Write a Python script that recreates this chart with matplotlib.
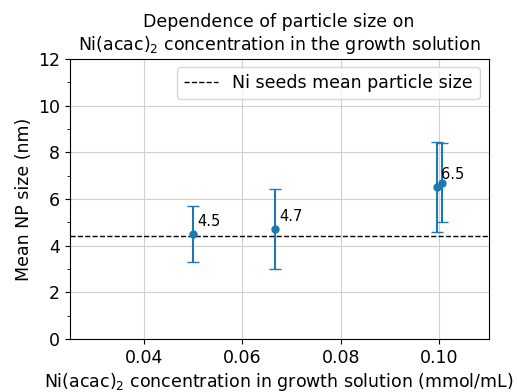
import matplotlib
matplotlib.use("Agg")
import matplotlib.pyplot as plt
from matplotlib.ticker import MultipleLocator

# Ni(acac)2 concentration (mmol/mL) and measured NP sizes (nm)
conc = [0.05, 0.0667, 0.0995]
size_mean = [4.5, 4.7, 6.5]
size_std = [1.18, 1.71, 1.92]

# repeat synthesis at the highest concentration
conc_rep = [0.1005]
size_rep = [6.7]
std_rep = [1.69]

seed_size = 4.4

fig, ax = plt.subplots(figsize=(5.17, 3.92), dpi=100)

ax.errorbar(conc, size_mean, yerr=size_std, fmt="o", color="tab:blue",
            markersize=5, capsize=4, zorder=3)
ax.errorbar(conc_rep, size_rep, yerr=std_rep, fmt="o", color="tab:blue",
            markersize=5, capsize=4, zorder=3)

for x, y in zip(conc, size_mean):
    ax.annotate(f"{y:.1f}", (x, y), xytext=(3, 6), textcoords="offset points",
                fontsize=10.5)

ax.axhline(seed_size, color="black", linestyle="--", linewidth=1,
           label="Ni seeds mean particle size")

ax.set_xlim(0.025, 0.11)
ax.set_ylim(0, 12)
ax.yaxis.set_minor_locator(MultipleLocator(1))
ax.tick_params(labelsize=12.5)
ax.grid(True, color="#d0d0d0")

ax.set_xlabel("Ni(acac)$_2$ concentration in growth solution (mmol/mL)",
              fontsize=12.5, labelpad=3)
ax.set_ylabel("Mean NP size (nm)", fontsize=12.5)
ax.set_title("Dependence of particle size on\nNi(acac)$_2$ concentration in the growth solution",
             fontsize=12.5)
ax.legend(loc="upper right", fontsize=12.5)

fig.subplots_adjust(left=0.135, right=0.945, top=0.85, bottom=0.135)
fig.savefig("out.png")
